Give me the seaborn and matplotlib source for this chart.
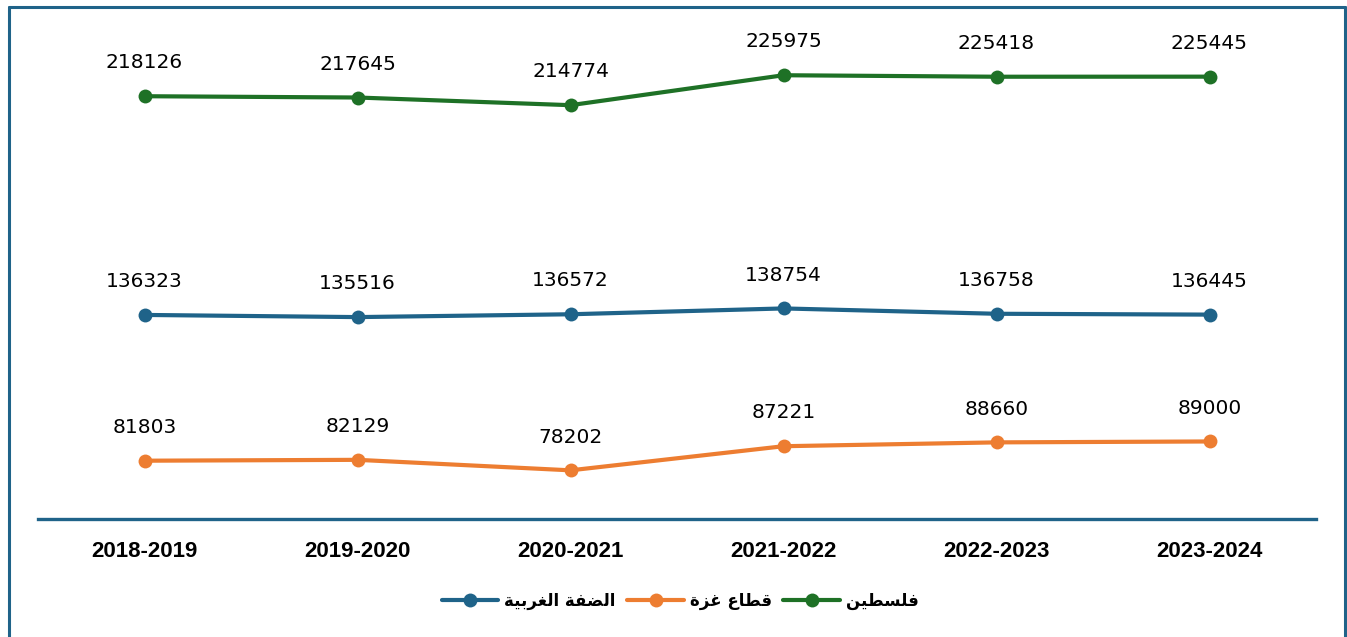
import pandas as pd
import seaborn as sns
import matplotlib.pyplot as plt
from matplotlib.lines import Line2D

# data
years = ['2018-2019', '2019-2020', '2020-2021', '2021-2022', '2022-2023', '2023-2024']
palestine = [218126, 217645, 214774, 225975, 225418, 225445]
west_bank = [136323, 135516, 136572, 138754, 136758, 136445]
gaza = [81803, 82129, 78202, 87221, 88660, 89000]

# arabic names, written in shaped (presentation) forms, visual order
name_pal = '\uFEE6\uFEF4\uFEC4\uFEB4\uFEE0\uFED3'                      # فلسطين
name_gaza = '\uFE93\uFEB0\uFECF \uFEC9\uFE8E\uFEC4\uFED7'              # قطاع غزة
name_wb = '\uFE94\uFEF4\uFE91\uFEAE\uFED0\uFEDF\uFE8D \uFE94\uFED4\uFEC0\uFEDF\uFE8D'  # الضفة الغربية

colors = {name_wb: '#1F6389', name_gaza: '#ED7D31', name_pal: '#1E7126'}

df = pd.DataFrame({
    'year': years * 3,
    'value': west_bank + gaza + palestine,
    'region': [name_wb] * 6 + [name_gaza] * 6 + [name_pal] * 6,
})

sns.set_style('white')
plt.rcParams['font.family'] = ['DejaVu Sans']

fig = plt.figure(figsize=(13.47, 6.37), dpi=100)
ax = fig.add_axes([38 / 1347, 1 - 519 / 637, (1316 - 38) / 1347, (519 - 11) / 637])

sns.lineplot(
    data=df, x='year', y='value', hue='region',
    palette=colors, marker='o', markersize=10, linewidth=3,
    markeredgewidth=0, sort=False, legend=False, ax=ax
)

for reg, vals in [(name_pal, palestine), (name_wb, west_bank), (name_gaza, gaza)]:
    for i, v in enumerate(vals):
        ax.annotate(str(v), (i, v), xytext=(0, 24), textcoords='offset points',
                    ha='center', va='center', fontsize=14.5, color='black')

ax.set_xlim(-0.5, 5.5)
ax.set_ylim(60000, 250000)
ax.set_yticks([])
ax.set_xlabel('')
ax.set_ylabel('')
ax.tick_params(axis='x', length=0, pad=16, colors='black')
for lab in ax.get_xticklabels():
    lab.set_fontfamily('Liberation Sans')
    lab.set_fontweight('bold')
    lab.set_fontsize(16)
for s in ['top', 'left', 'right']:
    ax.spines[s].set_visible(False)
ax.spines['bottom'].set_color('#1F6389')
ax.spines['bottom'].set_linewidth(2.4)

handles = [Line2D([], [], color=colors[n], lw=3, marker='o', ms=10, mew=0)
           for n in [name_wb, name_gaza, name_pal]]
leg = fig.legend(handles, [name_wb, name_gaza, name_pal], loc='center',
                 bbox_to_anchor=(0.505, 1 - 601 / 637), ncol=3, frameon=False,
                 handlelength=3.4, handletextpad=0.35, columnspacing=0.7,
                 prop={'family': 'DejaVu Sans', 'weight': 'bold', 'size': 12})
for t in leg.get_texts():
    t.set_color('black')

# outer frame
fc = '#1F6389'
fig.add_artist(Line2D([8.5 / 1347, 8.5 / 1347], [0, 1 - 7 / 637], color=fc, lw=2.2))
fig.add_artist(Line2D([8.5 / 1347, 1344.5 / 1347], [1 - 7 / 637, 1 - 7 / 637], color=fc, lw=2.2))
fig.add_artist(Line2D([1344.5 / 1347, 1344.5 / 1347], [0, 1 - 7 / 637], color=fc, lw=2.2))

fig.savefig('out.png', dpi=100)
